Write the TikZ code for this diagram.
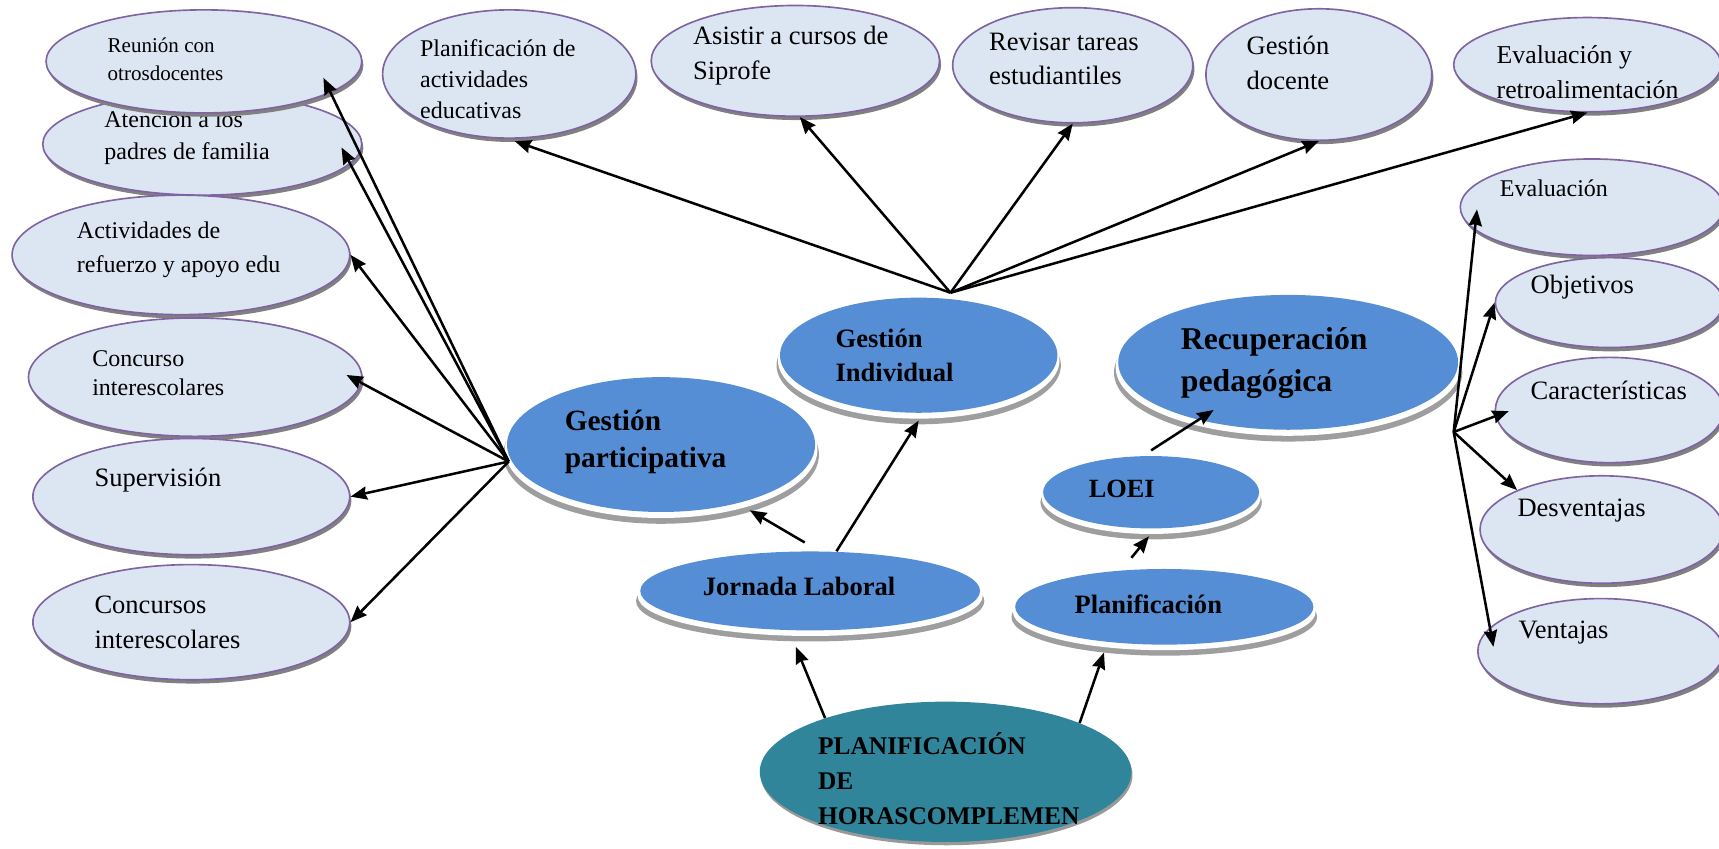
\documentclass[tikz,border=0pt]{standalone}
\usepackage{fontspec}
\setmainfont{Liberation Serif}
\usetikzlibrary{shapes.geometric, shadows, arrows.meta}
\definecolor{ideafill}{RGB}{220,230,242}
\definecolor{ideaborder}{RGB}{128,100,162}
\definecolor{temablue}{RGB}{85,142,213}
\definecolor{raizteal}{RGB}{49,133,155}
\tikzstyle{idea} = [ellipse, inner sep = 0pt, draw = ideaborder, fill = ideafill, line width = 1.5pt, general shadow = {fill = black!50, shadow xshift = 1.5pt, shadow yshift = -3.5pt}]
\tikzstyle{tema} = [ellipse, inner sep = 0pt, fill = temablue, general shadow = {fill = black!38, shadow scale = 1.025, shadow yshift = -9pt}, general shadow = {fill = white, shadow scale = 1.015, shadow yshift = -4.5pt}]
\tikzstyle{raiz} = [ellipse, inner sep = 0pt, fill = raizteal, general shadow = {fill = black!40, shadow xshift = 1pt, shadow yshift = -3pt}]
\tikzstyle{texto} = [anchor = west, inner sep = 0pt, align = left]
\tikzstyle{flecha} = [->, >={Stealth[length = 15pt, width = 12pt, inset = 1.5pt]}, line width = 2.3pt]

\begin{document}
\begin{tikzpicture}[x = 1pt, y = -1pt]
\useasboundingbox (0,0) rectangle (1568,774);
\clip (0,0) rectangle (1568,774);

% left column
\node (atencion) [idea, minimum width = 291pt, minimum height = 93pt] at (184.5,131.5) {};
\node (atencionTxt) [texto, font = \fontsize{21.9}{29}\selectfont] at (95,125.5) {Atención a los\\padres de familia};
\node (reunion) [idea, minimum width = 288pt, minimum height = 94pt] at (186,56) {};
\node (reunionTxt) [texto, font = \fontsize{19.2}{26}\selectfont] at (98,54) {Reunión con\\otrosdocentes};
\node (activ) [idea, minimum width = 308pt, minimum height = 109pt] at (165,232.5) {};
\node (activTxt) [texto, font = \fontsize{21.9}{31}\selectfont] at (70,228) {Actividades de\\refuerzo y apoyo edu};
\node (concurso) [idea, minimum width = 304pt, minimum height = 108pt] at (178,344) {};
\node (concursoTxt) [texto, font = \fontsize{21.9}{27}\selectfont] at (84,340.5) {Concurso\\interescolares};
\node (superv) [idea, minimum width = 289pt, minimum height = 106pt] at (174.5,453) {};
\node (supervTxt) [texto, font = \fontsize{24.2}{32}\selectfont] at (86,438) {Supervisión};
\node (concursos) [idea, minimum width = 289pt, minimum height = 105pt] at (174.5,567.5) {};
\node (concursosTxt) [texto, font = \fontsize{24.2}{32}\selectfont] at (86,568) {Concursos\\interescolares};

% top row
\node (planact) [idea, minimum width = 231pt, minimum height = 117pt] at (464.5,67.5) {};
\node (planactTxt) [texto, font = \fontsize{21.9}{28.5}\selectfont] at (383,72) {Planificación de\\actividades\\educativas};
\node (asistir) [idea, minimum width = 263pt, minimum height = 101pt] at (725.5,55.5) {};
\node (asistirTxt) [texto, font = \fontsize{24.2}{32}\selectfont] at (632,51) {Asistir a cursos de\\Siprofe};
\node (revisar) [idea, minimum width = 219pt, minimum height = 105pt] at (978.5,59.5) {};
\node (revisarTxt) [texto, font = \fontsize{24.2}{31}\selectfont] at (902,54) {Revisar tareas\\estudiantiles};
\node (gdoc) [idea, minimum width = 206pt, minimum height = 120pt] at (1203,68) {};
\node (gdocTxt) [texto, font = \fontsize{24.2}{32}\selectfont] at (1137,57) {Gestión\\docente};
\node (evalretro) [idea, minimum width = 244pt, minimum height = 86pt] at (1448,59) {};
\node (evalretroTxt) [texto, font = \fontsize{23.5}{32}\selectfont] at (1365,65.5) {Evaluación y\\retroalimentación};

% right column
\node (eval) [idea, minimum width = 240pt, minimum height = 88pt] at (1452,189) {};
\node (evalTxt) [texto, font = \fontsize{21.9}{28}\selectfont] at (1368,172) {Evaluación};
\node (objet) [idea, minimum width = 208pt, minimum height = 82pt] at (1468,276) {};
\node (objetTxt) [texto, font = \fontsize{24.2}{32}\selectfont] at (1396,262) {Objetivos};
\node (caract) [idea, minimum width = 208pt, minimum height = 96pt] at (1468,374) {};
\node (caractTxt) [texto, font = \fontsize{24.2}{32}\selectfont] at (1396,356) {Características};
\node (desv) [idea, minimum width = 222pt, minimum height = 98pt] at (1461,483) {};
\node (desvTxt) [texto, font = \fontsize{24.2}{32}\selectfont] at (1384,466) {Desventajas};
\node (vent) [idea, minimum width = 224pt, minimum height = 96pt] at (1460,594) {};
\node (ventTxt) [texto, font = \fontsize{24.2}{32}\selectfont] at (1385,577) {Ventajas};

% blue topics
\node (gp) [tema, minimum width = 281pt, minimum height = 123pt] at (603,405.5) {};
\node (gpTxt) [texto, font = \bfseries\fontsize{26.8}{34}\selectfont] at (515,403) {Gestión\\participativa};
\node (gi) [tema, minimum width = 253pt, minimum height = 105pt] at (838,324) {};
\node (giTxt) [texto, font = \bfseries\fontsize{24.2}{31}\selectfont] at (762,324.5) {Gestión\\Individual};
\node (recup) [tema, minimum width = 310pt, minimum height = 123pt] at (1175,330.5) {};
\node (recupTxt) [texto, font = \bfseries\fontsize{28.9}{38}\selectfont] at (1077,331) {Recuperación\\pedagógica};
\node (loei) [tema, minimum width = 197pt, minimum height = 66pt] at (1050,449) {};
\node (loeiTxt) [texto, font = \bfseries\fontsize{24}{30}\selectfont] at (993,446) {LOEI};
\node (jl) [tema, minimum width = 310pt, minimum height = 72pt] at (739,539) {};
\node (jlTxt) [texto, font = \bfseries\fontsize{24.2}{30}\selectfont] at (641,535) {Jornada Laboral};
\node (planif) [tema, minimum width = 272pt, minimum height = 69pt] at (1062,553.5) {};
\node (planifTxt) [texto, font = \bfseries\fontsize{24.2}{30}\selectfont] at (980,551) {Planificación};
\node (ph) [raiz, minimum width = 339pt, minimum height = 128pt] at (862.5,704) {};
\node (phTxt) [texto, font = \bfseries\fontsize{23.2}{32}\selectfont] at (746,710) {PLANIFICACIÓN\\DE\\HORASCOMPLEMEN};

\coordinate (gpHub) at (464,421);
\coordinate (giHub) at (867,267);
\coordinate (recHub) at (1326,394);

\draw [flecha] (gpHub) -- ([shift = {(109,15)}]reunion.center);
\draw [flecha] (gpHub) -- ([shift = {(127,3)}]atencion.center);
\draw [flecha] (gpHub) -- (activ.east);
\draw [flecha] (gpHub) -- ([shift = {(138,-2)}]concurso.center);
\draw [flecha] (gpHub) -- (superv.east);
\draw [flecha] (gpHub) -- (concursos.east);

\draw [flecha] (giHub) -- ([shift = {(5,2)}]planact.south);
\draw [flecha] (giHub) -- ([shift = {(4,0)}]asistir.south);
\draw [flecha] (giHub) -- (revisar.south);
\draw [flecha] (giHub) -- (gdoc.south);
\draw [flecha] (giHub) -- (evalretro.south);

\draw [flecha] (recHub) -- ([shift = {(16,2)}]eval.west);
\draw [flecha] (recHub) -- (objet.west);
\draw [flecha] (recHub) -- ([shift = {(13,1)}]caract.west);
\draw [flecha] (recHub) -- (desv.155);
\draw [flecha] (recHub) -- ([shift = {(15,-4)}]vent.west);

\draw [flecha] ([shift = {(-5,-8)}]jl.north) -- ([shift = {(81,60)}]gp.center);
\draw [flecha] ([shift = {(24,0)}]jl.north) -- ([shift = {(0,7)}]gi.south);
\draw [flecha] (ph.156) -- ([shift = {(-13,15)}]jl.south);
\draw [flecha] (ph.20) -- ([shift = {(-55,7)}]planif.south);
\draw [flecha] ([shift = {(-30,-10)}]planif.north) -- ([shift = {(-2,7)}]loei.south);
\draw [flecha] ([shift = {(0,-5)}]loei.north) -- ([shift = {(-68,43.5)}]recup.center);
\end{tikzpicture}
\end{document}
